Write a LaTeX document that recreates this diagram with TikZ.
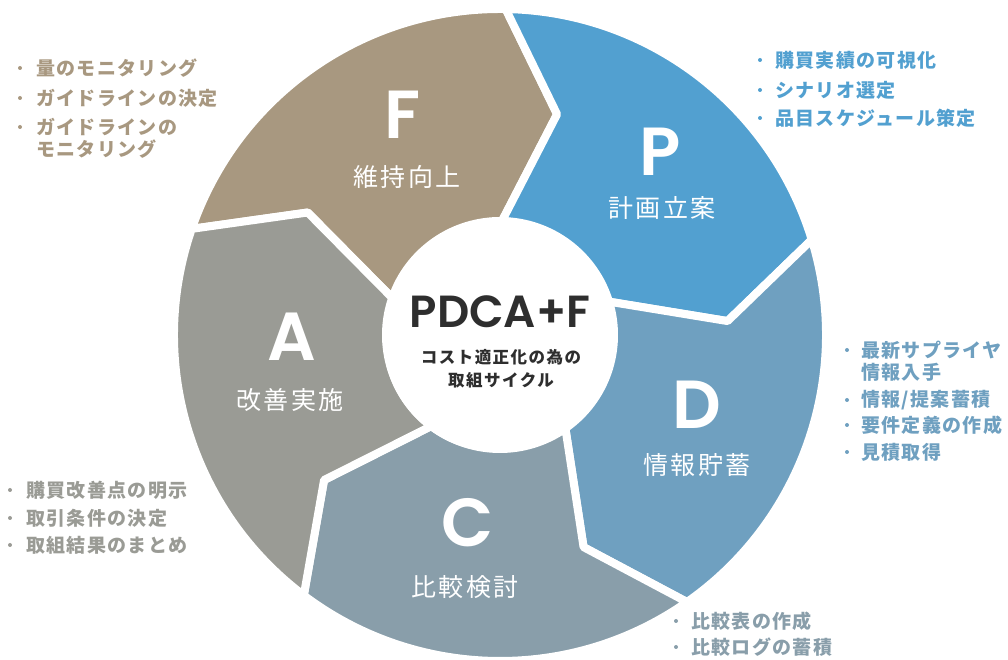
\documentclass[tikz,border=0pt]{standalone}
\usepackage{fontspec}
\newfontfamily\jp{Noto Sans CJK JP}
\newfontfamily\pop{Poppins SemiBold}
\definecolor{cF}{HTML}{A89880}
\definecolor{cP}{HTML}{52A0D0}
\definecolor{cD}{HTML}{6FA0C0}
\definecolor{cC}{HTML}{899EAA}
\definecolor{cA}{HTML}{9A9B95}
\definecolor{dark}{HTML}{2E2E2E}
\newcommand\pdcaseg[3]{%
  \filldraw[segstyle, fill=#1] (#2:\Rout) arc[start angle=#2, end angle=#3, radius=\Rout]
    -- ({#3-\tipoff}:\Rmid) -- (#3:\Rin) arc[start angle=#3, end angle=#2, radius=\Rin]
    -- ({#2-\tipoff}:\Rmid) -- cycle;}
\def\Rout{326}\def\Rin{114}\def\Rmid{228}\def\tipoff{13.5}
\begin{document}
\begin{tikzpicture}[x=1pt,y=1pt,
  segstyle/.style={draw=white, line width=8pt, line join=round},
  big/.style={text=white, font=\pop\fontsize{68}{68}\selectfont, inner sep=0pt},
  lab/.style={text=white, font=\jp\fontsize{25}{25}\selectfont\addfontfeatures{LetterSpace=10}, inner sep=0pt},
  item/.style={anchor=west, inner sep=0pt, align=left, font=\jp\bfseries\fontsize{19}{22}\selectfont\addfontfeatures{LetterSpace=7}},
]
\useasboundingbox (0,0) rectangle (1008,660);
\begin{scope}[shift={(500,325)}]
  \pdcaseg{cF}{161}{89}
  \pdcaseg{cP}{89}{17}
  \pdcaseg{cD}{17}{-55}
  \pdcaseg{cC}{-55}{-127}
  \pdcaseg{cA}{-127}{-199}
\end{scope}
% hub
\node[circle, fill=white, minimum size=228pt, inner sep=0pt] (hub) at (497,322) {};
\node[inner sep=0pt, text=dark, font=\pop\fontsize{45}{45}\selectfont] (title) at (500,348) {PDCA+F};
\node[inner sep=0pt, text=dark, align=center, font=\jp\bfseries\fontsize{16.5}{23}\selectfont\addfontfeatures{LetterSpace=9}] (sub) at (501,291.5) {コスト適正化の為の\\取組サイクル};
% segment letters and labels
\node[big] (Fl) at (403,545) {F};
\node[lab] (Ft) at (407,483) {維持向上};
\node[big] (Pl) at (660,508) {P};
\node[lab] (Pt) at (662,452) {計画立案};
\node[big] (Dl) at (697,255) {D};
\node[lab] (Dt) at (697,195) {情報貯蓄};
\node[big] (Cl) at (468,137) {C};
\node[lab] (Ct) at (465,73) {比較検討};
\node[big] (Al) at (292,323) {A};
\node[lab] (At) at (290,260) {改善実施};
% F list
\begin{scope}[text=cF]
\fill[cF] (20,592) circle (2) (20,562) circle (2) (20,533) circle (2);
\node[item] (f1) at (36,592) {量のモニタリング};
\node[item] (f2) at (36,562) {ガイドラインの決定};
\node[item] (f3) at (36,522) {ガイドラインの\\モニタリング};
\end{scope}
% P list
\begin{scope}[text=cP]
\fill[cP] (760,600) circle (2) (760,570) circle (2) (760,542) circle (2);
\node[item] (p1) at (775,600) {購買実績の可視化};
\node[item] (p2) at (775,570) {シナリオ選定};
\node[item] (p3) at (775,542) {品目スケジュール策定};
\end{scope}
% D list
\begin{scope}[text=cD]
\fill[cD] (847,310) circle (2) (847,260) circle (2) (847,235) circle (2) (847,208) circle (2);
\node[item] (d1) at (861,298.5) {最新サプライヤ\\情報入手};
\node[item] (d2) at (861,260) {情報/提案蓄積};
\node[item] (d3) at (861,235) {要件定義の作成};
\node[item] (d4) at (861,208) {見積取得};
\end{scope}
% A list
\begin{scope}[text=cA]
\fill[cA] (10,170) circle (2) (10,142) circle (2) (10,115) circle (2);
\node[item] (a1) at (26,170) {購買改善点の明示};
\node[item] (a2) at (26,142) {取引条件の決定};
\node[item] (a3) at (26,115) {取組結果のまとめ};
\end{scope}
% C list
\begin{scope}[text=cC]
\fill[cC] (676,39) circle (2) (676,13) circle (2);
\node[item] (c1) at (691,39) {比較表の作成};
\node[item] (c2) at (691,13) {比較ログの蓄積};
\end{scope}
\end{tikzpicture}
\end{document}
